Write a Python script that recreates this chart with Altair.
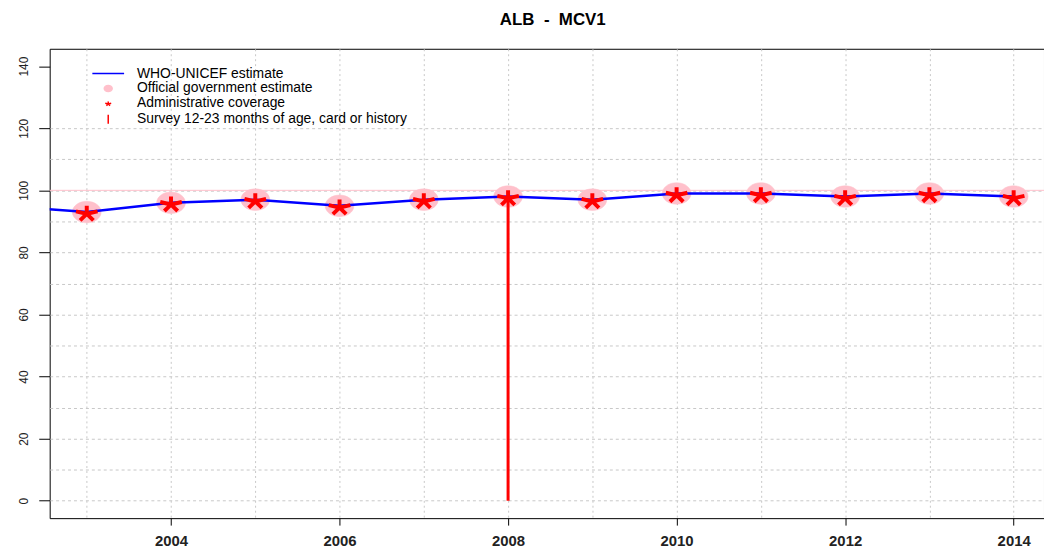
import altair as alt
import pandas as pd

# ---- data ----
line_years = [2002, 2003, 2004, 2005, 2006, 2007, 2008, 2009, 2010, 2011, 2012, 2013, 2014]
wuenic = [95, 93, 96, 97, 95, 97, 98, 97, 99, 99, 98, 99, 98]

gov_years = [2003, 2004, 2005, 2006, 2007, 2008, 2009, 2010, 2011, 2012, 2013, 2014]
gov = [93, 96, 97, 95, 97, 98, 97, 99, 99, 98, 99, 98]

admin_years = [2003, 2004, 2005, 2006, 2007, 2008, 2009, 2010, 2011, 2012, 2013, 2014]
admin = [93, 96, 97, 95, 97, 98, 97, 99, 99, 98, 99, 98]

survey_years = [2008]
survey = [97]

target = [100]

labels = [
    "WHO-UNICEF estimate",
    "Official government estimate",
    "Administrative coverage",
    "Survey 12-23 months of age, card or history",
]
grid_years = list(range(2003, 2015))
y_ticks = list(range(0, 141, 10))

FONT = "Liberation Sans"

# ---- symbols ----
line_path = "M-3.2,0L3.2,0"
ellipse_path = "M-0.8,0A0.8,0.6,0,1,0,0.8,0A0.8,0.6,0,1,0,-0.8,0Z"
star_path = ("M0,0.1L0,-0.35M0,0.1L0.6,-0.04M0,0.1L0.37,0.46"
             "M0,0.1L-0.37,0.46M0,0.1L-0.6,-0.04")
bar_path = "M0,-0.9L0,0.9"

shape_scale = alt.Scale(domain=labels, range=[line_path, ellipse_path, star_path, bar_path])
fill_scale = alt.Scale(domain=labels, range=["transparent", "#FFC0CB", "transparent", "transparent"])
stroke_scale = alt.Scale(domain=labels, range=["#0000FF", "#FFC0CB", "#FF0000", "#FF0000"])

legend = alt.Legend(
    title=None, orient="none", legendX=52, legendY=18,
    labelFont=FONT, labelFontSize=14, labelColor="#000", labelLimit=0,
    symbolSize=100, symbolStrokeWidth=1.5, labelOffset=22,
    rowPadding=1, padding=0,
)

x_scale = alt.Scale(domain=[2002.56, 2014.36], nice=False, zero=False)
y_scale = alt.Scale(domain=[-5.6, 145.6], nice=False, zero=False)

x_axis = alt.Axis(
    values=grid_years, format="d",
    labelExpr="datum.value % 2 == 0 ? datum.label : ''",
    tickOpacity={"condition": {"test": "datum.value % 2 != 0", "value": 0}, "value": 1},
    grid=True, gridColor="#c8c8c8", gridDash=[2, 3], gridWidth=1,
    domain=False, tickColor="#000", tickSize=7, tickWidth=1,
    labelFont=FONT, labelFontSize=15, labelFontWeight="bold", labelColor="#222",
    labelPadding=9,
)
y_axis = alt.Axis(
    values=y_ticks,
    labelExpr="datum.value % 20 == 0 ? datum.label : ''",
    tickOpacity={"condition": {"test": "datum.value % 20 != 0", "value": 0}, "value": 1},
    gridOpacity={"condition": {"test": "datum.value > 120", "value": 0}, "value": 1},
    grid=True, gridColor="#c8c8c8", gridDash=[3, 3], gridWidth=1,
    domain=False, tickColor="#000", tickSize=11, tickWidth=1,
    labelFont=FONT, labelFontSize=12, labelColor="#222",
    labelAngle=270, labelAlign="center", labelBaseline="bottom", labelPadding=8,
)

X = alt.X("year:Q", scale=x_scale, axis=x_axis, title=None)
Y = alt.Y("value:Q", scale=y_scale, axis=y_axis, title=None)

line_df = pd.DataFrame({"year": line_years, "value": wuenic})
gov_df = pd.DataFrame({"year": gov_years, "value": gov, "series": labels[1]})
admin_df = pd.DataFrame({"year": admin_years, "value": admin, "series": labels[2]})
survey_df = pd.DataFrame({"year": survey_years, "value": survey})
target_df = pd.DataFrame({"value": target})

ref = alt.Chart(target_df).mark_rule(color="#FFC0CB", strokeWidth=1).encode(y=Y)

gov_layer = alt.Chart(gov_df).mark_point(filled=True, opacity=1, size=1314, strokeWidth=0.5).encode(
    x=X, y=Y,
    shape=alt.Shape("series:N", scale=shape_scale, legend=legend),
    fill=alt.Fill("series:N", scale=fill_scale, legend=legend),
    stroke=alt.Stroke("series:N", scale=stroke_scale, legend=legend),
)

wuenic_layer = alt.Chart(line_df).mark_line(color="#0000FF", strokeWidth=2.5, clip=True).encode(x=X, y=Y)

survey_layer = alt.Chart(survey_df).mark_rule(color="#FF0000", strokeWidth=3).encode(
    x=X, y=Y, y2=alt.Y2(datum=0)
)

admin_layer = alt.Chart(admin_df).mark_point(filled=False, opacity=1, size=1314, strokeWidth=4).encode(
    x=X, y=Y,
    shape=alt.Shape("series:N", scale=shape_scale, legend=legend),
    fill=alt.Fill("series:N", scale=fill_scale, legend=legend),
    stroke=alt.Stroke("series:N", scale=stroke_scale, legend=legend),
)

chart = alt.layer(ref, gov_layer, wuenic_layer, survey_layer, admin_layer).properties(
    width=1002, height=473,
    title=alt.TitleParams(
        "ALB\u00a0\u00a0-\u00a0\u00a0MCV1", font=FONT, fontSize=17, fontWeight="bold",
        color="#000", anchor="middle", frame="group", baseline="alphabetic", offset=7, dx=6,
    ),
    padding={"left": 42, "top": 39, "right": 0, "bottom": 30},
    autosize=alt.AutoSizeParams(type="none"),
).configure_view(stroke="#000", strokeWidth=1)

chart.save("out.html", embed_options={"renderer": "svg", "actions": False})
